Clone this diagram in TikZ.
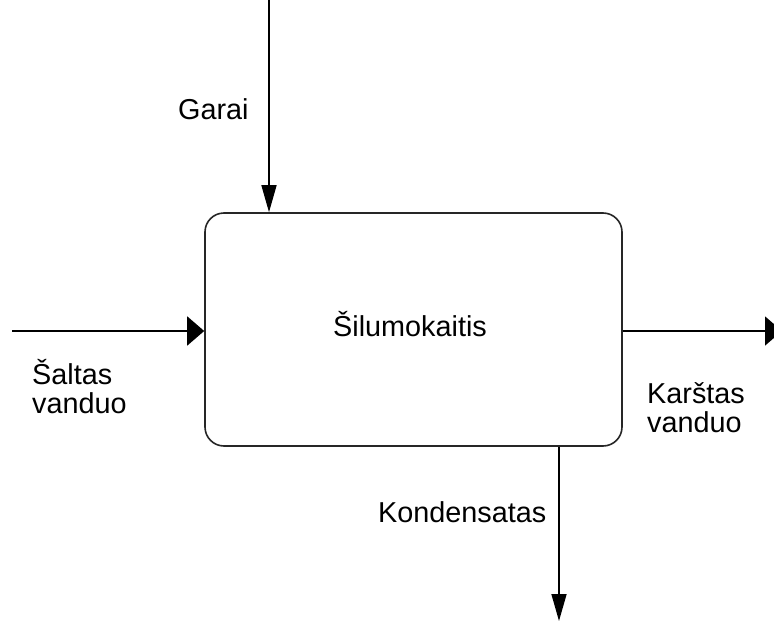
\documentclass[tikz,border=0pt]{standalone}
\usepackage{fontspec}
\setmainfont{Liberation Sans}
\usetikzlibrary{arrows.meta}
\begin{document}
\begin{tikzpicture}[x=1pt,y=-1pt,
  lbl/.style={font=\fontsize{28.8}{29}\selectfont, inner sep=0pt, anchor=base west, align=left},
  unit/.style={draw=black!85, line width=1.6pt, rounded corners=19pt,
    minimum width=417pt, minimum height=233pt, inner sep=0pt},
  hflow/.style={line width=1.6pt, -{Triangle[length=17pt,width=29pt]}},
  vflow/.style={line width=1.6pt, -{Triangle[length=27pt,width=15pt]}},
]
\useasboundingbox (0,0) rectangle (774,621);

% heat exchanger block
\node[unit] (box) at (413.5,329.5) {};
\node[lbl] (sil) at (333,336) {Šilumokaitis};

% flow end points
\coordinate (gtop) at (269,0);
\coordinate (win) at (12,331);
\coordinate (wout) at (782,331);
\coordinate (kbot) at (559,621);

% flows
\draw[vflow] (gtop) -- (gtop |- box.north);
\draw[hflow] (win) -- (win -| box.west);
\draw[hflow] (wout -| box.east) -- (wout);
\draw[vflow] (kbot |- box.south) -- (kbot);

% flow labels (base anchor sits on the last line)
\node[lbl] (garai) at (178,119) {Garai};
\node[lbl] (kond) at (378,522) {Kondensatas};
\node[lbl] (salt) at (32,413) {Šaltas\\vanduo};
\node[lbl] (karst) at (647,432) {Karštas\\vanduo};
\end{tikzpicture}
\end{document}
